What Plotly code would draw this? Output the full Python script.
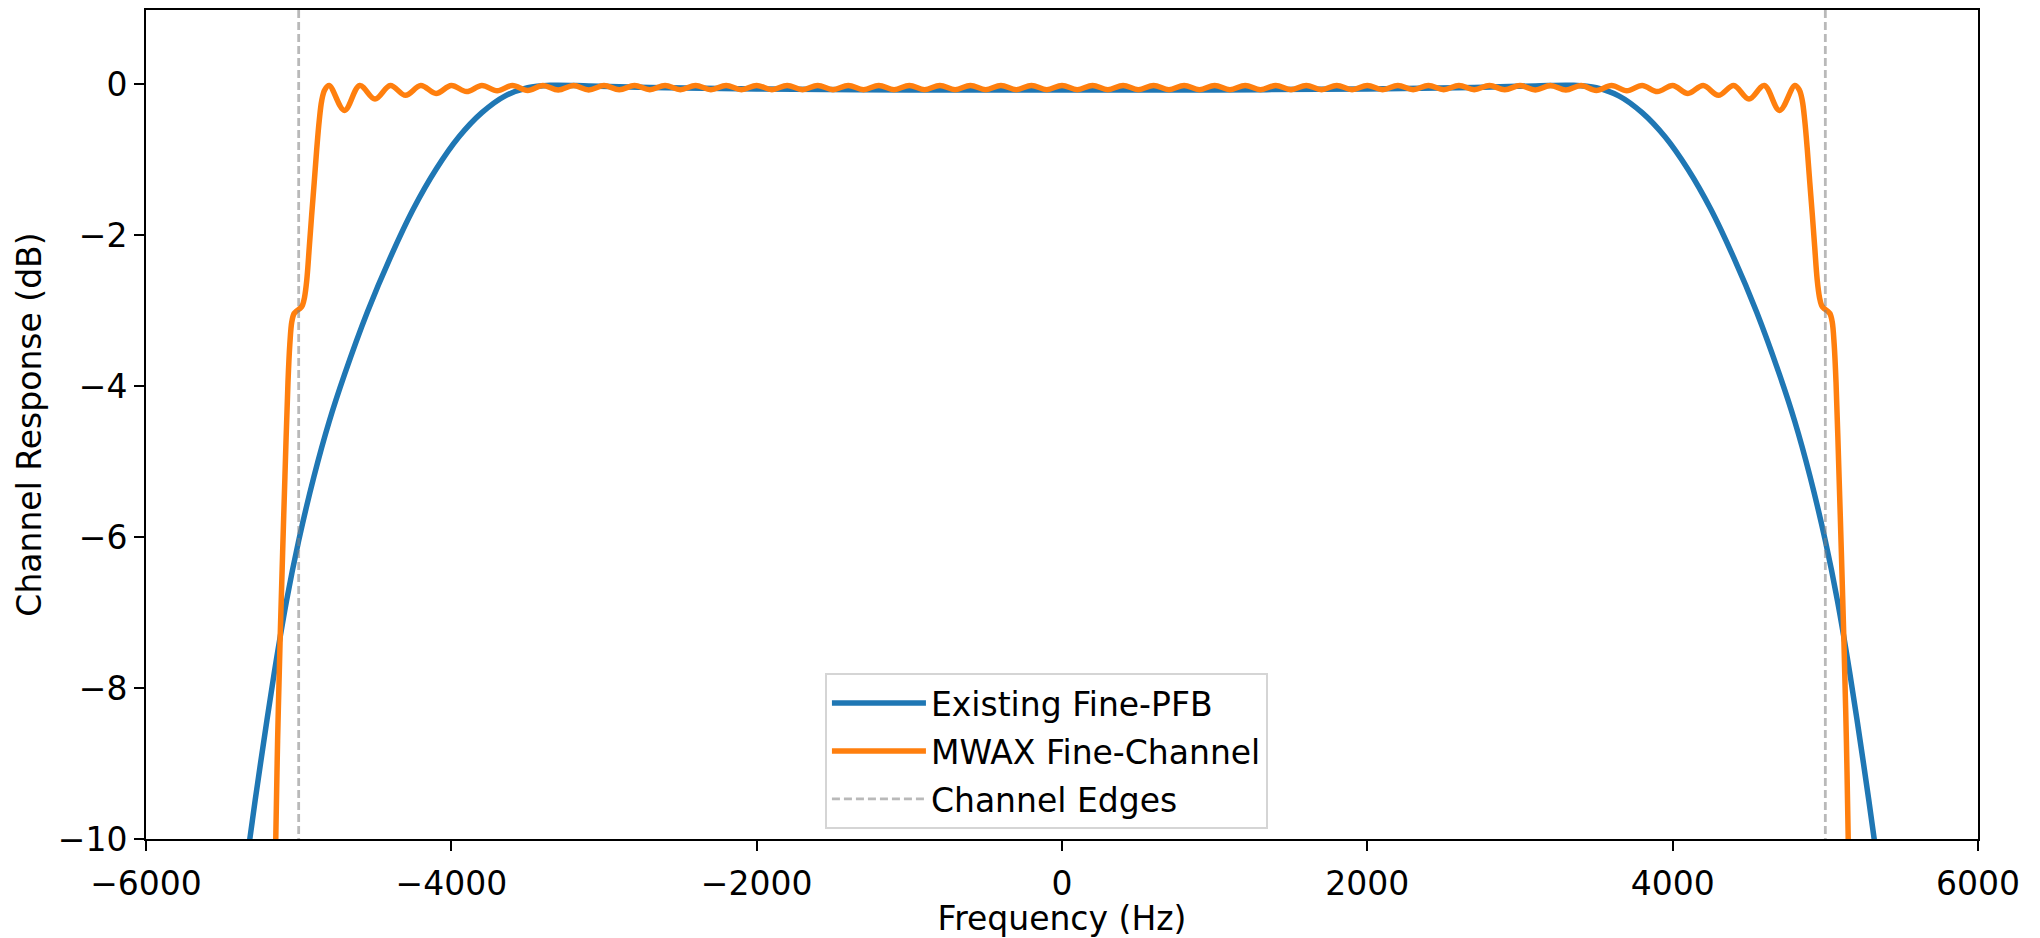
import plotly.graph_objects as go

# ---------------- data ----------------
blue_freq = [-5400, -5320, -5250, -5160, -5080, -5000, -4900, -4800, -4700, -4550,
             -4400, -4250, -4100, -3950, -3800, -3650, -3500, -3350, -3100, -2700,
             -2000, -1000, 0, 1000, 2000,
             2700, 3100, 3350, 3500, 3650, 3800, 3950, 4100, 4250, 4400,
             4550, 4700, 4800, 4900, 5000, 5080, 5160, 5250, 5320, 5400]
blue_db = [-11.25, -10.0, -9.0, -7.8, -6.85, -6.05, -5.2, -4.47, -3.85, -3.02,
           -2.3, -1.66, -1.13, -0.7, -0.38, -0.16, -0.05, -0.018, -0.025, -0.045,
           -0.065, -0.078, -0.08, -0.078, -0.065,
           -0.045, -0.025, -0.018, -0.05, -0.16, -0.38, -0.7, -1.13, -1.66, -2.3,
           -3.02, -3.85, -4.47, -5.2, -6.05, -6.85, -7.8, -9.0, -10.0, -11.25]

orange_freq = [-5180, -5150, -5138, -5122, -5105, -5090, -5070, -5058, -5045, -5030,
               -5010, -4990, -4975, -4962, -4947, -4930, -4915, -4898, -4882, -4865,
               -4849, -4830,
               -4800, -4700, -4600, -4500, -4400, -4300, -4200, -4100, -4000, -3900,
               -3800, -3700, -3600, -3500, -3400, -3300, -3200, -3100, -3000, -2900,
               -2800, -2700, -2600, -2500, -2400, -2300, -2200, -2100, -2000, -1900,
               -1800, -1700, -1600, -1500, -1400, -1300, -1200, -1100, -1000, -900,
               -800, -700, -600, -500, -400, -300, -200, -100, 0,
               100, 200, 300, 400, 500, 600, 700, 800, 900, 1000,
               1100, 1200, 1300, 1400, 1500, 1600, 1700, 1800, 1900, 2000,
               2100, 2200, 2300, 2400, 2500, 2600, 2700, 2800, 2900, 3000,
               3100, 3200, 3300, 3400, 3500, 3600, 3700, 3800, 3900, 4000,
               4100, 4200, 4300, 4400, 4500, 4600, 4700, 4800,
               4830, 4849, 4865, 4882, 4898, 4915, 4930, 4947, 4962, 4975,
               4990, 5010, 5030, 5045, 5058, 5070, 5090, 5105, 5122, 5138,
               5150, 5180]
orange_db = [-13.0, -10.0, -8.7, -7.4, -6.2, -5.2, -3.95, -3.45, -3.15, -3.04,
             -3.0, -2.97, -2.93, -2.83, -2.6, -2.15, -1.74, -1.3, -0.87, -0.48,
             -0.22, -0.08,
             -0.02, -0.35, -0.02, -0.20, -0.02, -0.15, -0.02, -0.125, -0.02, -0.10,
             -0.02, -0.09, -0.02, -0.085, -0.02, -0.08, -0.02, -0.078, -0.02, -0.076,
             -0.02, -0.075, -0.02, -0.075, -0.02, -0.075, -0.02, -0.075, -0.02, -0.075,
             -0.02, -0.075, -0.02, -0.075, -0.02, -0.075, -0.02, -0.075, -0.02, -0.075,
             -0.02, -0.075, -0.02, -0.075, -0.02, -0.075, -0.02, -0.075, -0.02,
             -0.075, -0.02, -0.075, -0.02, -0.075, -0.02, -0.075, -0.02, -0.075, -0.02,
             -0.075, -0.02, -0.075, -0.02, -0.075, -0.02, -0.075, -0.02, -0.075, -0.02,
             -0.075, -0.02, -0.075, -0.02, -0.075, -0.02, -0.075, -0.02, -0.076, -0.02,
             -0.078, -0.02, -0.08, -0.02, -0.085, -0.02, -0.09, -0.02, -0.10, -0.02,
             -0.125, -0.02, -0.15, -0.02, -0.20, -0.02, -0.35, -0.02,
             -0.08, -0.22, -0.48, -0.87, -1.3, -1.74, -2.15, -2.6, -2.83, -2.93,
             -2.97, -3.0, -3.04, -3.15, -3.45, -3.95, -5.2, -6.2, -7.4, -8.7,
             -10.0, -13.0]

edge_freq = [-5000, 5000]
edge_db_span = [-12, 2]

x_ticks = [-6000, -4000, -2000, 0, 2000, 4000, 6000]
x_ticktext = ["\u22126000", "\u22124000", "\u22122000", "0", "2000", "4000", "6000"]
y_ticks = [0, -2, -4, -6, -8, -10]
y_ticktext = ["0", "\u22122", "\u22124", "\u22126", "\u22128", "\u221210"]

series_names = ["Existing Fine-PFB", "MWAX Fine-Channel", "Channel Edges"]

# ---------------- figure ----------------
FONT = "DejaVu Sans"
fig = go.Figure()
fig.add_trace(go.Scatter(x=blue_freq, y=blue_db, mode="lines", name=series_names[0],
                         line=dict(color="#1f77b4", width=5.5, shape="spline", smoothing=1.0),
                         legendgroup="a"))
fig.add_trace(go.Scatter(x=orange_freq, y=orange_db, mode="lines", name=series_names[1],
                         line=dict(color="#ff7f0e", width=5.5, shape="spline", smoothing=1.0),
                         legendgroup="b"))
ex, ey = [], []
for f in edge_freq:
    ex += [f, f, None]
    ey += [edge_db_span[0], edge_db_span[1], None]
fig.add_trace(go.Scatter(x=ex, y=ey, mode="lines", name=series_names[2],
                         line=dict(color="rgba(128,128,128,0.55)", width=2.8, dash="8px,4px"),
                         legendgroup="c"))

axis_common = dict(showgrid=False, zeroline=False, showline=True, mirror=True,
                   linecolor="black", linewidth=2, ticks="outside", ticklen=10,
                   tickwidth=2, tickcolor="black",
                   tickfont=dict(family=FONT, size=33, color="black"))
fig.update_xaxes(range=[-6000, 6000], tickvals=x_ticks, ticktext=x_ticktext,
                 ticklabelstandoff=4,
                 title=dict(text="Frequency (Hz)", font=dict(family=FONT, size=33, color="black"),
                            standoff=4),
                 **axis_common)
fig.update_yaxes(range=[-10, 0.98], tickvals=y_ticks, ticktext=y_ticktext,
                 title=dict(text="Channel Response (dB)", font=dict(family=FONT, size=33, color="black"),
                            standoff=6),
                 **axis_common)
fig.update_layout(
    width=2040, height=938,
    margin=dict(l=146, r=62, t=8, b=90),
    paper_bgcolor="white", plot_bgcolor="white",
    font=dict(family=FONT, size=33, color="black"),
    showlegend=True,
    legend=dict(x=0.3706, y=0.012, xanchor="left", yanchor="bottom",
                bgcolor="rgba(255,255,255,0.8)", bordercolor="#d5d5d5", borderwidth=2,
                font=dict(family=FONT, size=33, color="black"),
                traceorder="grouped", tracegroupgap=2, itemwidth=94),
)
fig.write_html("out.html")
